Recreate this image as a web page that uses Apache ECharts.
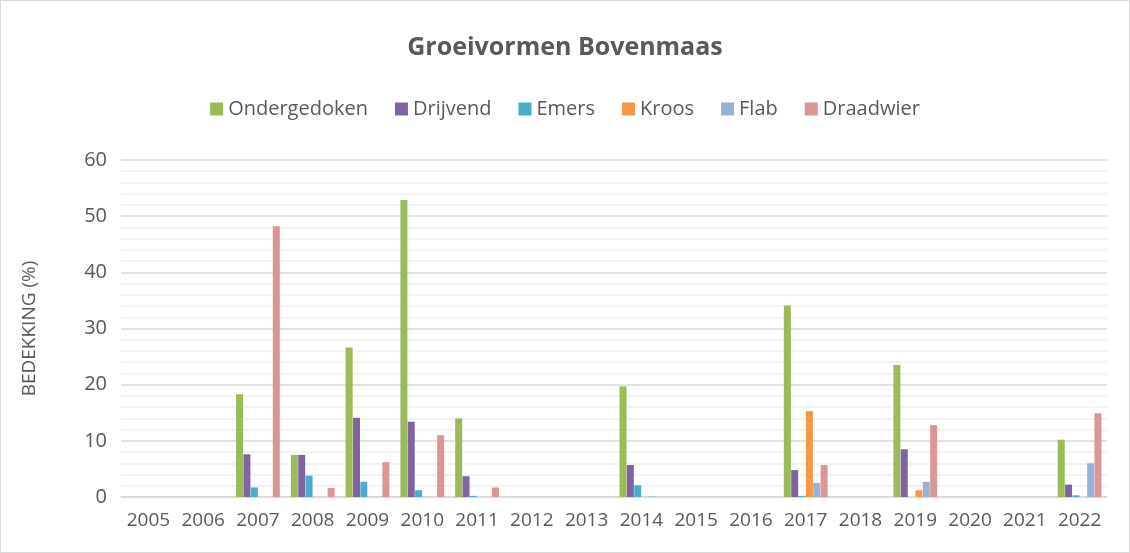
<!DOCTYPE html>
<html>
<head>
<meta charset="utf-8">
<script src="https://cdn.jsdelivr.net/npm/echarts@6/dist/echarts.min.js"></script>
<style>
  html, body { margin: 0; padding: 0; background: #fff; }
  #chart { width: 1128px; height: 551px; border: 1px solid #d9d9d9; }
</style>
</head>
<body>
<div id="chart"></div>
<script>
// jaren en bedekking per groeivorm (%)
const years = ['2005', '2006', '2007', '2008', '2009', '2010', '2011', '2012', '2013',
               '2014', '2015', '2016', '2017', '2018', '2019', '2020', '2021', '2022'];
const seriesNames = ['Ondergedoken', 'Drijvend', 'Emers', 'Kroos', 'Flab', 'Draadwier'];
const seriesColors = ['#9BBB59', '#8064A2', '#4BACC6', '#F79646', '#95B3D7', '#D99694'];

const ondergedoken = [0, 0, 18.3, 7.5, 26.6, 52.9, 14.0, 0, 0, 19.7, 0, 0, 34.1, 0, 23.5, 0, 0, 10.2];
const drijvend     = [0, 0, 7.6, 7.5, 14.1, 13.4, 3.7, 0, 0, 5.7, 0, 0, 4.8, 0, 8.5, 0, 0, 2.2];
const emers        = [0, 0, 1.7, 3.8, 2.7, 1.2, 0.2, 0, 0, 2.1, 0, 0, 0.2, 0, 0, 0, 0, 0.3];
const kroos        = [0, 0, 0, 0, 0, 0, 0, 0, 0, 0, 0, 0, 15.3, 0, 1.2, 0, 0, 0];
const flab         = [0, 0, 0, 0, 0, 0, 0, 0, 0, 0.1, 0, 0, 2.5, 0, 2.7, 0, 0, 6.0];
const draadwier    = [0, 0, 48.2, 1.6, 6.2, 11.0, 1.7, 0, 0, 0, 0, 0, 5.7, 0, 12.8, 0, 0, 14.9];

const seriesData = [ondergedoken, drijvend, emers, kroos, flab, draadwier];

const myChart = echarts.init(document.getElementById('chart'));
const fontFam = '"Open Sans", "Noto Sans", sans-serif';

const option = {
    animation: false,
    textStyle: { fontFamily: fontFam },
    title: {
        text: 'Groeivormen Bovenmaas',
        left: 'center',
        top: 29,
        textStyle: { fontSize: 25, fontWeight: 'bold', color: '#595959', fontFamily: fontFam }
    },
    legend: {
        data: seriesNames,
        top: 93,
        left: 'center',
        itemWidth: 13,
        itemHeight: 13,
        itemGap: 27,
        icon: 'rect',
        textStyle: { fontSize: 20, color: '#595959', fontFamily: fontFam }
    },
    grid: {
        left: 120,
        right: 22,
        top: 159,
        bottom: 55
    },
    xAxis: {
        type: 'category',
        data: years,
        axisLine: { lineStyle: { color: '#d9d9d9', width: 1.5 } },
        axisTick: { show: false },
        axisLabel: { fontSize: 19, color: '#595959', margin: 14, interval: 0 }
    },
    yAxis: {
        type: 'value',
        min: 0,
        max: 60,
        interval: 10,
        name: 'BEDEKKING (%)',
        nameLocation: 'middle',
        nameGap: 82,
        nameTextStyle: { fontSize: 19, color: '#595959' },
        axisLine: { show: false },
        axisTick: { show: false },
        axisLabel: { fontSize: 20, color: '#595959', margin: 14 },
        splitLine: { lineStyle: { color: '#d9d9d9', width: 1.5 } },
        minorTick: { show: false, splitNumber: 5 },
        minorSplitLine: { show: true, lineStyle: { color: '#f0f0f0', width: 1.5 } }
    },
    series: seriesNames.map((name, i) => ({
        name: name,
        type: 'bar',
        data: seriesData[i],
        barWidth: 7,
        barGap: '5%',
        itemStyle: { color: seriesColors[i] }
    }))
};

myChart.setOption(option);
</script>
</body>
</html>
